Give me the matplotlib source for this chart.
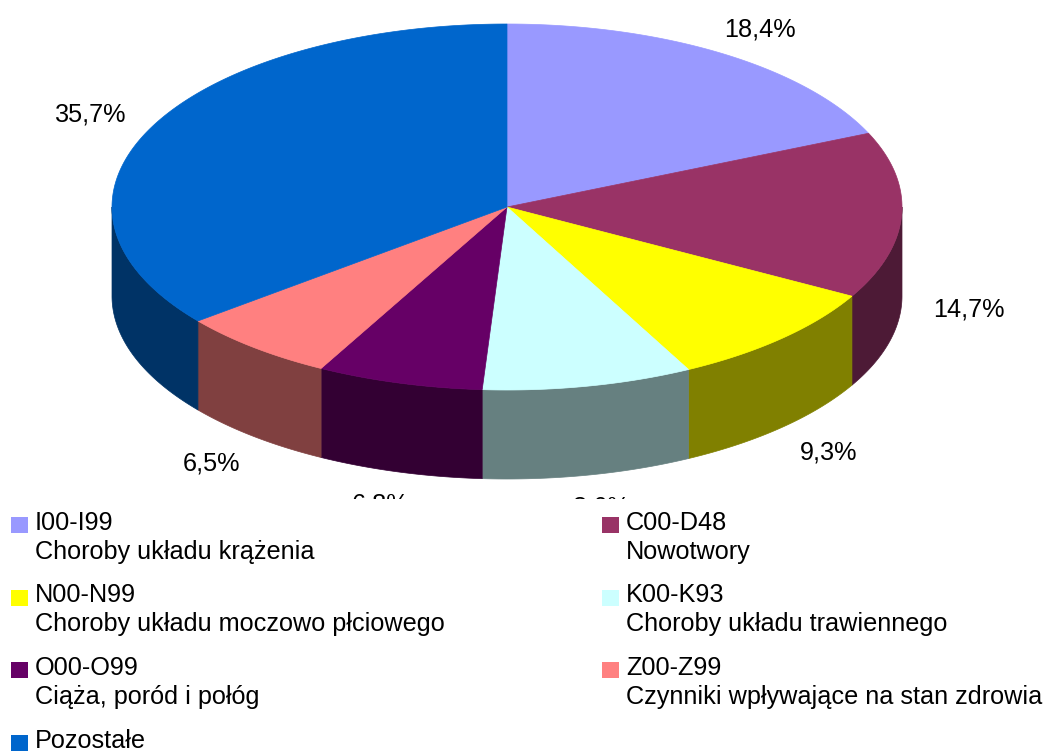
import numpy as np
import matplotlib
matplotlib.use("Agg")
import matplotlib.pyplot as plt
from matplotlib.patches import Polygon, Rectangle

# ICD groups, clockwise from the top of the pie
codes = ["I00-I99", "C00-D48", "N00-N99", "K00-K93", "O00-O99", "Z00-Z99", "Pozostałe"]
descriptions = ["Choroby układu krążenia", "Nowotwory",
                "Choroby układu moczowo płciowego", "Choroby układu trawiennego",
                "Ciąża, poród i połóg", "Czynniki wpływające na stan zdrowia", ""]
shares = [18.4, 14.7, 9.3, 8.6, 6.8, 6.5, 35.7]

top_colors = ["#9999FF", "#993366", "#FFFF00", "#CCFFFF", "#660066", "#FF8080", "#0066CC"]
side_colors = ["#4D4D80", "#4D1A36", "#808000", "#668080", "#330033", "#804040", "#003366"]

plt.rcParams['font.family'] = ['Liberation Sans', 'DejaVu Sans']
FS = 18.2

W, H = 1049, 751
fig = plt.figure(figsize=(W / 100, H / 100), dpi=100)
ax = fig.add_axes([0, 0, 1, 1])
ax.set_xlim(0, W)
ax.set_ylim(H, 0)
ax.axis('off')

# pie geometry in pixels
CX, CY, RX, RY, DEPTH = 507, 207, 395, 183, 89


def rim(t):
    # t in degrees, clockwise from the top
    t = np.radians(t)
    return CX + RX * np.sin(t), CY - RY * np.cos(t)


edges = np.concatenate([[0], np.cumsum(shares)]) / sum(shares) * 360

# outer wall, only the front half shows
for i, (a, b) in enumerate(zip(edges[:-1], edges[1:])):
    lo, hi = max(a, 90), min(b, 270)
    if lo >= hi:
        continue
    x, y = rim(np.linspace(lo, hi, 120))
    pts = np.column_stack([np.r_[x, x[::-1]], np.r_[y, y[::-1] + DEPTH]])
    ax.add_patch(Polygon(pts, closed=True, facecolor=side_colors[i],
                         edgecolor=side_colors[i], lw=0.5, zorder=1))

# top faces
for i, (a, b) in enumerate(zip(edges[:-1], edges[1:])):
    x, y = rim(np.linspace(a, b, 200))
    pts = np.column_stack([np.r_[CX, x], np.r_[CY, y]])
    ax.add_patch(Polygon(pts, closed=True, facecolor=top_colors[i],
                         edgecolor=top_colors[i], lw=0.5, zorder=2))

# percent labels outside the pie
for i, (a, b) in enumerate(zip(edges[:-1], edges[1:])):
    m = np.radians((a + b) / 2)
    lx = CX + 1.17 * RX * np.sin(m)
    ly = CY - 1.16 * RY * np.cos(m) + (DEPTH + 4 if np.cos(m) < 0 else 0)
    txt = f"{shares[i]:.1f}".replace('.', ',') + '%'
    ax.text(lx, ly, txt, fontsize=FS, ha='center', va='center', zorder=3)

# legend area covers whatever is below the plot
ax.add_patch(Rectangle((0, 499), W, H - 499, facecolor='white', edgecolor='none', zorder=4))

col_x = [11, 602]
row_base = 530
row_step = 72.5
for i, (code, desc) in enumerate(zip(codes, descriptions)):
    r, c = divmod(i, 2)
    base = row_base + r * row_step
    x0 = col_x[c]
    ax.add_patch(Rectangle((x0, base - 13), 17, 16, facecolor=top_colors[i],
                           edgecolor='none', zorder=5))
    ax.text(x0 + 24, base, code, fontsize=FS, ha='left', va='baseline', zorder=5)
    if desc:
        ax.text(x0 + 24, base + 29, desc, fontsize=FS, ha='left', va='baseline', zorder=5)

fig.savefig("out.png", dpi=100)
